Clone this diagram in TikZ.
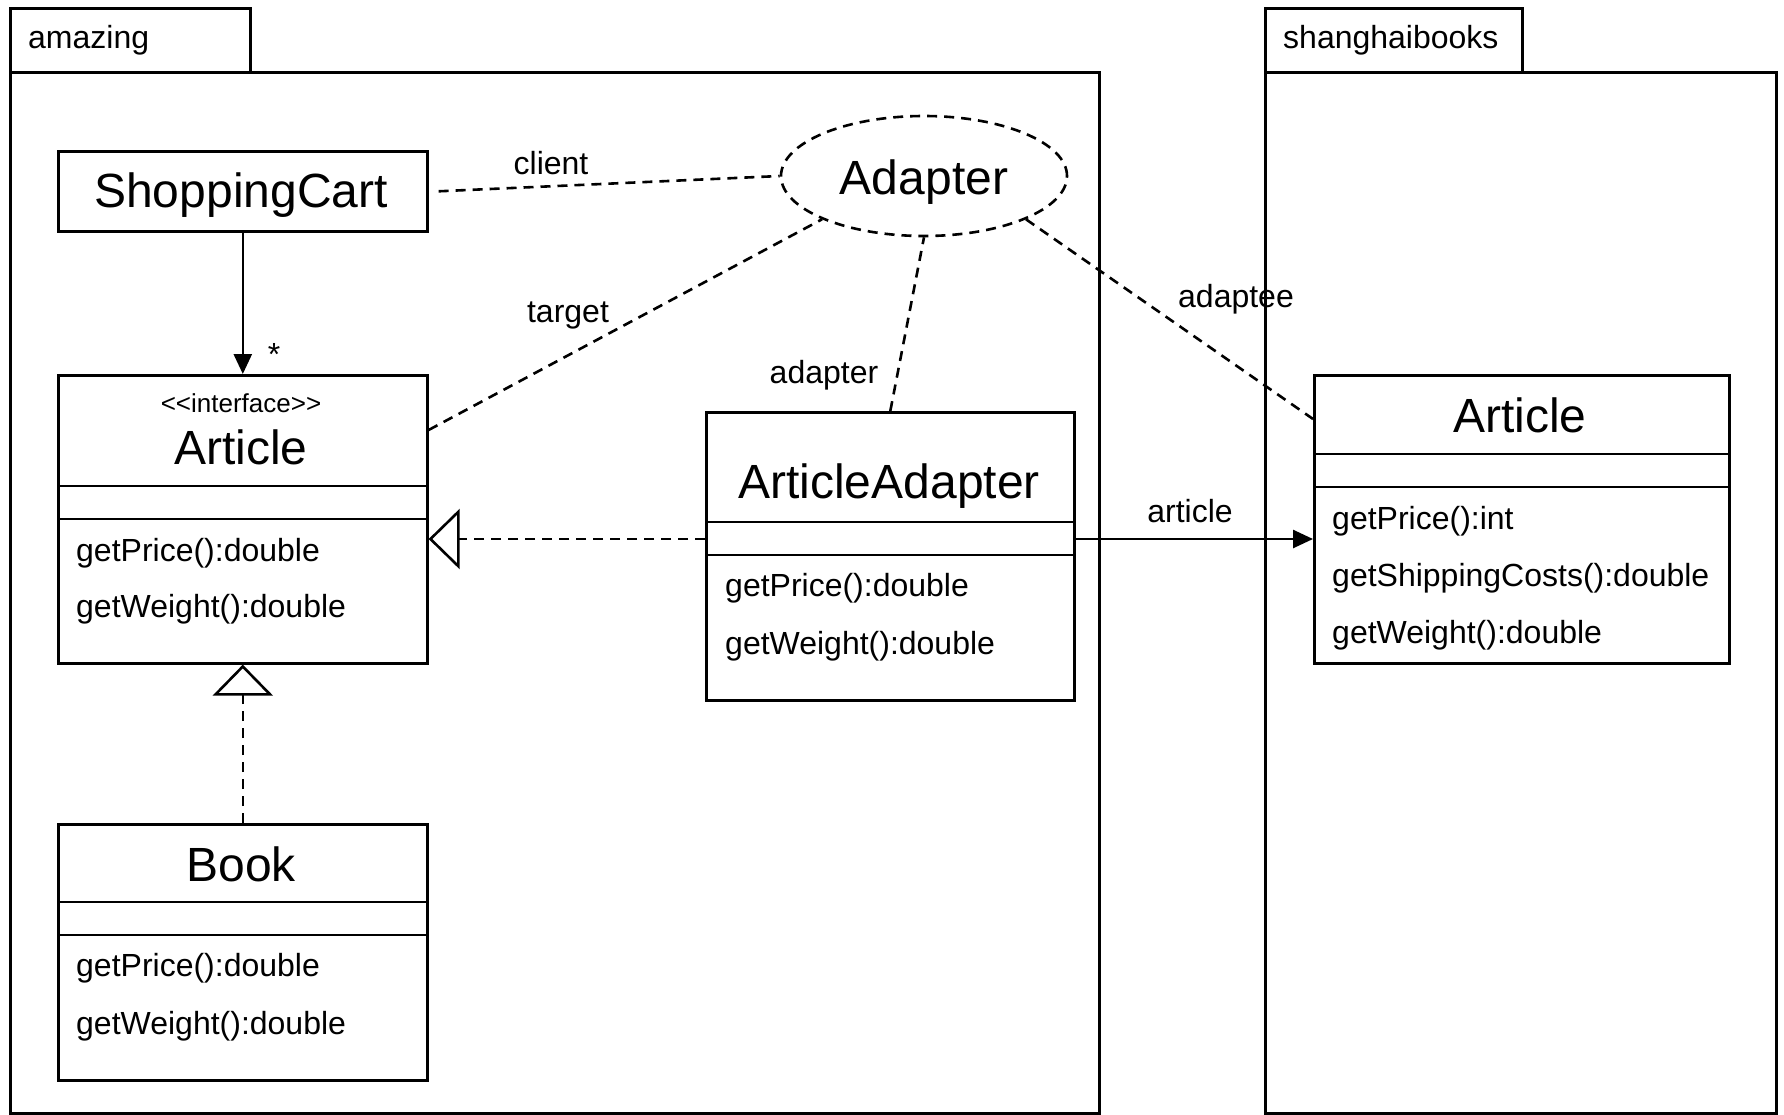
\documentclass[tikz,border=0pt]{standalone}
\usepackage{fontspec}
\setmainfont{Liberation Sans}
\usetikzlibrary{arrows.meta,shapes.geometric,calc}
\begin{document}
\begin{tikzpicture}[x=1pt,y=-1pt,
  lw/.style={line width=2.6pt},
  box/.style={draw,lw,rectangle,anchor=north west,inner sep=0pt},
  dsh/.style={lw,dash pattern=on 10pt off 7pt},
  cname/.style={font=\fontsize{48}{54}\selectfont,inner sep=0pt},
  meth/.style={font=\fontsize{32}{38}\selectfont,anchor=base west,inner sep=0pt},
  lbl/.style={font=\fontsize{32}{38}\selectfont,inner sep=0pt},
  pkg/.style={font=\fontsize{32}{36}\selectfont,anchor=base west,inner sep=0pt},
  sep/.style={lw},
  filled/.style={-{Triangle[length=20pt,width=18pt]}},
  realize/.style={-{Triangle[open,length=31pt,width=60pt]}},
  ]
\useasboundingbox (0,0) rectangle (1784,1114);
% packages
\node[box,minimum width=240pt,minimum height=64pt] (tabA) at (9,7) {};
\node[box,minimum width=1089pt,minimum height=1041pt] (pkgA) at (9,71) {};
\node[pkg] (pkgAname) at (28,48) {amazing};
\node[box,minimum width=257pt,minimum height=64pt] (tabB) at (1264,7) {};
\node[box,minimum width=511pt,minimum height=1041pt] (pkgB) at (1264,71) {};
\node[pkg] (pkgBname) at (1283,48) {shanghaibooks};
% ShoppingCart
\node[box,minimum width=369pt,minimum height=80pt] (sc) at (57,150) {};
\node[cname] (sct) at (241,195) {ShoppingCart};
% Adapter ellipse
\node[ellipse,draw,dsh,minimum width=286pt,minimum height=120pt,inner sep=0pt] (ad) at (924,176) {};
\node[font=\fontsize{48}{54}\selectfont,inner sep=0pt] (adt) at (924,182) {Adapter};
% Article interface
\node[box,minimum width=369pt,minimum height=288pt] (art) at (57,374) {};
\draw[sep] (57,486) coordinate (arts1) -- (426,486);
\draw[sep] (57,519) coordinate (arts2) -- (426,519);
\node[font=\fontsize{26}{30}\selectfont,inner sep=0pt] (artst) at (241,403) {<{}<interface>{}>};
\node[cname] (artt) at (241,447) {Article};
\node[meth] (artm1) at (76,561) {getPrice():double};
\node[meth] (artm2) at (76,617) {getWeight():double};
% Book
\node[box,minimum width=369pt,minimum height=256pt] (bk) at (57,823) {};
\draw[sep] (57,902) -- (426,902);
\draw[sep] (57,935) -- (426,935);
\node[cname] (bkt) at (241,864) {Book};
\node[meth] (bkm1) at (76,976) {getPrice():double};
\node[meth] (bkm2) at (76,1034) {getWeight():double};
% ArticleAdapter
\node[box,minimum width=368pt,minimum height=288pt] (aa) at (705,411) {};
\draw[sep] (705,522) -- (1073,522);
\draw[sep] (705,555) -- (1073,555);
\node[cname] (aat) at (889,486) {ArticleAdapter};
\node[meth] (aam1) at (725,596) {getPrice():double};
\node[meth] (aam2) at (725,654) {getWeight():double};
% shanghai Article
\node[box,minimum width=415pt,minimum height=288pt] (sa) at (1313,374) {};
\draw[sep] (1313,454) -- (1728,454);
\draw[sep] (1313,487) -- (1728,487);
\node[cname] (sat) at (1520,415) {Article};
\node[meth] (sam1) at (1332,529) {getPrice():int};
\node[meth] (sam2) at (1332,586) {getShippingCosts():double};
\node[meth] (sam3) at (1332,643) {getWeight():double};
% connectors
\draw[lw,filled] (sc.south) -- (art.north);
\node[lbl] (star) at (274,354) {*};
\draw[dsh] ($(sc.east)+(10,0)$) -- (ad.west);
\node[lbl] (lclient) at (551,163) {client};
\draw[dsh] ($(art.north east)+(0,56)$) -- (ad.south west);
\node[lbl] (ltarget) at (568,315) {target};
\draw[dsh] (aa.north) -- (ad.south);
\node[lbl] (ladapter) at (824,375) {adapter};
\draw[dsh] (ad.south east) -- ($(sa.north west)+(0,45)$);
\node[lbl] (ladaptee) at (1236,299) {adaptee};
\coordinate (aaL) at ($(aa.north west)+(0,128)$);
\draw[dsh,realize] (aaL) -- (art.east |- aaL);
\draw[dsh,realize] (bk.north) -- (art.south);
\coordinate (aaR) at ($(aa.north east)+(0,128)$);
\draw[lw,filled] (aaR) -- (sa.west |- aaR);
\node[lbl] (larticle) at (1190,511) {article};
\end{tikzpicture}
\end{document}
